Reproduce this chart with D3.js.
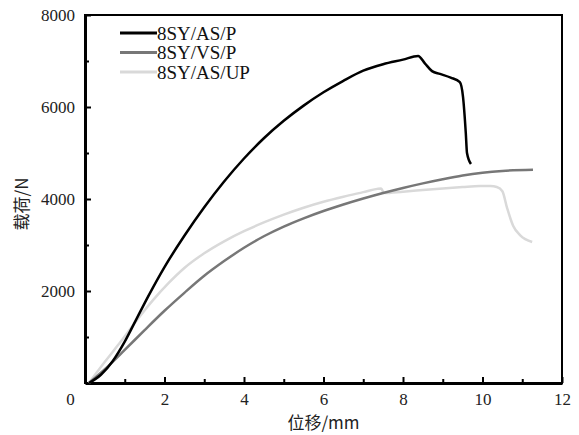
<!DOCTYPE html>
<html>
<head>
<meta charset="utf-8">
<script src="https://cdn.jsdelivr.net/npm/d3@7"></script>
<style>
  body { margin: 0; background: #fff; }
  svg { display: block; }
</style>
</head>
<body>
<svg id="chart" width="579" height="435"></svg>
<script>
// load–displacement curves
var seriesNames = ["8SY/AS/P", "8SY/VS/P", "8SY/AS/UP"];
var seriesColors = ["#000000", "#777777", "#d9d9d9"];

var asP = [[0.1,0],[0.4,180],[0.7,480],[1.0,900],[1.3,1400],[1.6,1900],[2.0,2520],[2.5,3200],
  [3.0,3820],[3.5,4380],[4.0,4880],[4.5,5320],[5.0,5700],[5.5,6030],[6.0,6320],[6.5,6570],
  [7.0,6790],[7.5,6930],[8.0,7030],[8.38,7110],[8.55,6950],[8.73,6780],[8.93,6720],[9.2,6640],
  [9.43,6540],[9.51,6220],[9.58,5430],[9.61,5000],[9.71,4760]];

var vsP = [[0.1,0],[0.5,300],[1.0,720],[1.5,1150],[2.0,1570],[2.5,1960],[3.0,2330],[3.5,2650],
  [4.0,2940],[4.5,3190],[5.0,3400],[5.5,3580],[6.0,3740],[6.5,3880],[7.0,4010],[7.5,4130],
  [8.0,4240],[8.5,4340],[9.0,4430],[9.5,4510],[10.0,4570],[10.5,4610],[11.27,4635]];

var asUP = [[0.1,0],[0.5,460],[0.9,900],[1.3,1360],[1.7,1790],[2.1,2170],[2.5,2500],[3.0,2820],
  [3.5,3080],[4.0,3300],[4.5,3490],[5.0,3660],[5.5,3810],[6.0,3940],[6.5,4050],[7.0,4150],
  [7.35,4220],[7.45,4230],[7.52,4130],[8.0,4160],[8.5,4195],[9.0,4230],[9.5,4260],[9.94,4280],
  [10.2,4280],[10.36,4260],[10.5,4170],[10.62,3800],[10.77,3420],[10.95,3210],[11.25,3065]];

var allSeries = [asP, vsP, asUP];

var xTicks = [0, 2, 4, 6, 8, 10, 12];
var yTicks = [2000, 4000, 6000, 8000];

(function () {
    var svg = d3.select("#chart");
    var mLeft = 85, mRight = 562, mTop = 15, mBottom = 383;

    var x = d3.scaleLinear().domain([0, 12]).range([mLeft, mRight]);
    var y = d3.scaleLinear().domain([0, 8000]).range([mBottom, mTop]);

    var serif = "'Liberation Serif', 'Times New Roman', serif";

    // frame
    svg.append("rect")
        .attr("x", mLeft).attr("y", mTop)
        .attr("width", mRight - mLeft).attr("height", mBottom - mTop)
        .attr("fill", "none").attr("stroke", "#000").attr("stroke-width", 2);

    // minor ticks
    svg.append("g")
        .attr("transform", "translate(0," + mBottom + ")")
        .call(d3.axisBottom(x).tickValues(d3.range(1, 12, 2)).tickSize(-4).tickFormat(""))
        .call(function (g) { g.select(".domain").remove(); })
        .selectAll("line").attr("stroke-width", 2);
    svg.append("g")
        .attr("transform", "translate(" + mLeft + ",0)")
        .call(d3.axisLeft(y).tickValues([1000, 3000, 5000, 7000]).tickSize(-4).tickFormat(""))
        .call(function (g) { g.select(".domain").remove(); })
        .selectAll("line").attr("stroke-width", 2);

    // major axes
    var xAxis = svg.append("g")
        .attr("transform", "translate(0," + mBottom + ")")
        .call(d3.axisBottom(x).tickValues(xTicks).tickSizeInner(-6).tickSizeOuter(0));
    var yAxis = svg.append("g")
        .attr("transform", "translate(" + mLeft + ",0)")
        .call(d3.axisLeft(y).tickValues(yTicks).tickSizeInner(-6).tickSizeOuter(0).tickPadding(10).tickFormat(d3.format("d")));

    [xAxis, yAxis].forEach(function (g) {
        g.select(".domain").attr("stroke-width", 3);
        g.selectAll(".tick line").attr("stroke-width", 2);
        g.selectAll("text").attr("font-family", serif).attr("font-size", 17).attr("fill", "#222");
    });
    xAxis.selectAll(".tick text").attr("y", 10).attr("dy", "0.71em");
    // the shared zero sits to the left of the corner
    var zeroTick = xAxis.selectAll(".tick").filter(function (d) { return d === 0; });
    zeroTick.select("text").attr("x", -15);
    zeroTick.select("line").remove();

    // curves
    var line = d3.line()
        .x(function (d) { return x(d[0]); })
        .y(function (d) { return y(d[1]); })
        .curve(d3.curveMonotoneX);

    // draw light first so darker lines sit on top
    [2, 1, 0].forEach(function (i) {
        svg.append("path")
            .datum(allSeries[i])
            .attr("fill", "none")
            .attr("stroke", seriesColors[i])
            .attr("stroke-width", 2.5)
            .attr("stroke-linejoin", "round")
            .attr("d", line);
    });

    // legend
    var legend = svg.append("g");
    seriesNames.forEach(function (name, i) {
        var ly = 33 + i * 19.5;
        legend.append("line")
            .attr("x1", 120).attr("x2", 157)
            .attr("y1", ly).attr("y2", ly)
            .attr("stroke", seriesColors[i]).attr("stroke-width", 3);
        legend.append("text")
            .attr("x", 157).attr("y", ly)
            .attr("dy", "0.35em")
            .attr("font-family", serif).attr("font-size", 19)
            .attr("fill", "#111")
            .text(name);
    });

    // axis titles
    svg.append("text")
        .attr("x", (mLeft + mRight) / 2).attr("y", 423)
        .attr("dy", "0.35em")
        .attr("text-anchor", "middle")
        .attr("font-family", "'Noto Sans CJK SC', sans-serif")
        .attr("font-size", 17).attr("fill", "#222")
        .text("位移/mm");

    svg.append("text")
        .attr("transform", "translate(22,204) rotate(-90)")
        .attr("dy", "0.35em")
        .attr("text-anchor", "middle")
        .attr("font-family", "'Noto Sans CJK SC', sans-serif")
        .attr("font-size", 17).attr("fill", "#222")
        .text("载荷/N");
})();
</script>
</body>
</html>
